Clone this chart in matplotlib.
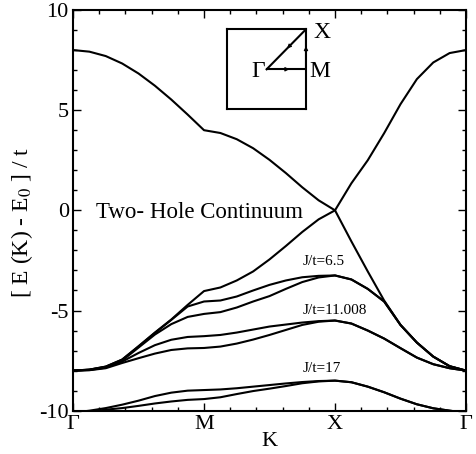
import numpy as np
import matplotlib
matplotlib.use('Agg')
import matplotlib.pyplot as plt

plt.rcParams['font.family'] = ['Liberation Serif', 'DejaVu Serif']
plt.rcParams['mathtext.fontset'] = 'stix'
plt.rcParams['axes.unicode_minus'] = False

# path Gamma -> M -> X -> Gamma, 8 steps per segment
k = np.linspace(0, 3, 25)
k_ticks = [0, 1, 2, 3]
k_labels = ['Γ', 'M', 'X', 'Γ']

# edges of the two-hole continuum
upper_edge = [8.0, 7.92, 7.7, 7.33, 6.83, 6.22, 5.53, 4.78, 4.0,
              3.86, 3.55, 3.1, 2.52, 1.86, 1.15, 0.5, 0.0,
              -1.55, -3.05, -4.5, -5.72, -6.6, -7.3, -7.78, -8.0]
lower_edge = [-8.0, -7.95, -7.8, -7.45, -6.78, -6.1, -5.45, -4.72, -4.03,
              -3.85, -3.5, -3.05, -2.45, -1.78, -1.08, -0.45, 0.0,
              1.35, 2.5, 3.85, 5.3, 6.55, 7.38, 7.85, 8.0]

# bound states, two branches per J/t
j65_a = [-8.0, -7.95, -7.8, -7.45, -6.8, -6.12, -5.47, -4.8, -4.55,
         -4.5, -4.3, -4.0, -3.72, -3.5, -3.34, -3.27, -3.25,
         -3.45, -3.92, -4.55, -5.72, -6.6, -7.3, -7.78, -8.0]
j65_b = [-8.0, -7.96, -7.82, -7.5, -6.85, -6.2, -5.68, -5.32, -5.17,
         -5.08, -4.85, -4.55, -4.28, -3.92, -3.58, -3.35, -3.25,
         -3.45, -3.92, -4.55, -5.72, -6.6, -7.3, -7.78, -8.0]
j11_a = [-8.0, -7.97, -7.85, -7.55, -7.12, -6.73, -6.46, -6.32, -6.28,
         -6.22, -6.1, -5.95, -5.8, -5.7, -5.6, -5.53, -5.5,
         -5.65, -6.0, -6.4, -6.88, -7.35, -7.68, -7.88, -8.0]
j11_b = [-8.0, -7.98, -7.88, -7.62, -7.38, -7.15, -6.97, -6.89, -6.87,
         -6.8, -6.65, -6.45, -6.22, -5.97, -5.72, -5.56, -5.5,
         -5.65, -6.0, -6.4, -6.88, -7.35, -7.68, -7.88, -8.0]
j17_a = [-10.1, -10.0, -9.87, -9.7, -9.5, -9.27, -9.1, -9.0, -8.97,
         -8.94, -8.88, -8.8, -8.72, -8.64, -8.57, -8.52, -8.5,
         -8.58, -8.8, -9.08, -9.4, -9.68, -9.88, -10.0, -10.1]
j17_b = [-10.1, -10.05, -9.95, -9.87, -9.76, -9.64, -9.54, -9.46, -9.42,
         -9.33, -9.17, -9.02, -8.9, -8.77, -8.63, -8.54, -8.5,
         -8.58, -8.8, -9.08, -9.4, -9.68, -9.88, -10.0, -10.1]

fig = plt.figure(figsize=(4.76, 4.54), dpi=100)
ax = fig.add_axes([0.1534, 0.0954, 0.8256, 0.8826])

for y in [upper_edge, lower_edge, j65_a, j65_b, j11_a, j11_b, j17_a, j17_b]:
    ax.plot(k, y, color='black', lw=1.5, solid_joinstyle='round')

ax.set_xlim(0, 3)
ax.set_ylim(-10, 10)
ax.set_xticks(k_ticks)
ax.set_xticklabels(k_labels)
ax.set_xticks(np.arange(0, 3.01, 0.2), minor=True)
ax.set_yticks([-10, -5, 0, 5, 10])
ax.set_yticks(np.arange(-10, 10.1, 1), minor=True)
ax.tick_params(which='both', direction='in', top=True, right=True,
               labelsize=16, width=1)
ax.tick_params(which='major', length=6, pad=3)
ax.tick_params(which='minor', length=3)
for s in ax.spines.values():
    s.set_linewidth(1.5)

ax.set_xlabel('K', fontsize=16, labelpad=-1)
ax.set_ylabel(r'[ E (K) - E$_{\rm 0}$ ] / t', fontsize=17)
ax.yaxis.set_label_coords(-0.097, 0.47)

ax.text(0.175, -0.1, 'Two- Hole Continuum', fontsize=16.5, va='center', ha='left')
ax.text(1.91, -2.55, 'J/t=6.5', fontsize=11, ha='center', va='center')
ax.text(2.0, -5.0, 'J/t=11.008', fontsize=11, ha='center', va='center')
ax.text(1.9, -7.9, 'J/t=17', fontsize=11, ha='center', va='center')

# inset: Brillouin zone path
ins = fig.add_axes([0.4775, 0.7593, 0.1653, 0.1762])
ins.set_xlim(-1, 1)
ins.set_ylim(-1, 1)
ins.set_xticks([])
ins.set_yticks([])
for s in ins.spines.values():
    s.set_linewidth(1.5)
ins.plot([0, 1], [0, 0], color='black', lw=1.5)
ins.plot([1, 1], [0, 1], color='black', lw=1.5)
ins.plot([0, 1], [0, 1], color='black', lw=1.5)
arrow = dict(arrowstyle='-|>', color='black', lw=0.8, mutation_scale=6)
ins.annotate('', xy=(0.58, 0), xytext=(0.45, 0), arrowprops=arrow)
ins.annotate('', xy=(1, 0.58), xytext=(1, 0.45), arrowprops=arrow)
ins.annotate('', xy=(0.47, 0.47), xytext=(0.6, 0.6), arrowprops=arrow)
ins.text(-0.05, -0.05, 'Γ', fontsize=17, ha='right', va='center')
ins.text(1.08, -0.05, 'M', fontsize=17, ha='left', va='center', clip_on=False)
ins.text(1.41, 0.92, 'X', fontsize=17, ha='center', va='center', clip_on=False)

plt.savefig('out.png', dpi=100)
